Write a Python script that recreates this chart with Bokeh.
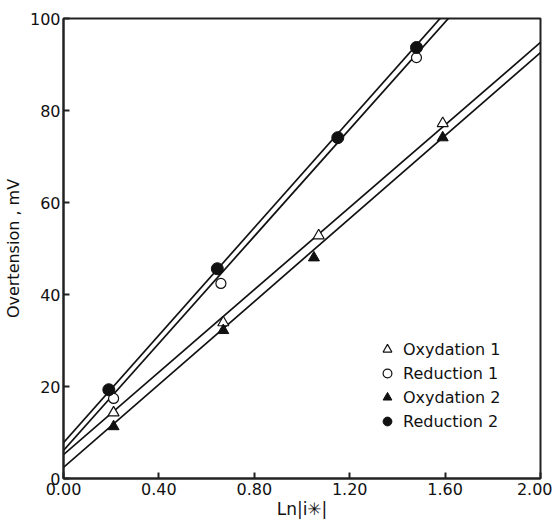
from bokeh.plotting import figure
from bokeh.models import Legend, LegendItem, FixedTicker, Range1d
from bokeh.embed import file_html
from bokeh.resources import INLINE

# ---- data ----
x_ox1 = [0.21, 0.67, 1.07, 1.59]
y_ox1 = [14.3, 33.9, 52.8, 77.2]
x_red1 = [0.21, 0.66, 1.48]
y_red1 = [17.4, 42.4, 91.5]
x_ox2 = [0.21, 0.67, 1.05, 1.59]
y_ox2 = [11.3, 32.2, 48.0, 74.1]
x_red2 = [0.19, 0.645, 1.15, 1.48]
y_red2 = [19.3, 45.6, 74.1, 93.7]

# fitted straight lines (intercept, slope)
fit_names = ["Oxydation 1", "Reduction 1", "Oxydation 2", "Reduction 2"]
fit_intercept = [5.2, 6.1, 2.4, 7.8]
fit_slope = [44.8, 58.2, 45.1, 58.4]
fit_x = [0.0, 2.0]

x_ticks = [0.0, 0.4, 0.8, 1.2, 1.6, 2.0]
x_tick_labels = ["0.00", "0.40", "0.80", "1.20", "1.60", "2.00"]
y_ticks = [0, 20, 40, 60, 80, 100]
y_tick_labels = ["0", "20", "40", "60", "80", "100"]

FONT = "DejaVu Sans"
INK = "#111111"

p = figure(width=552, height=523, x_range=Range1d(0, 2), y_range=Range1d(0, 100),
           output_backend="svg", toolbar_location=None,
           min_border_left=63, min_border_right=12, min_border_top=18, min_border_bottom=45)
p.xgrid.visible = False
p.ygrid.visible = False
p.background_fill_color = "white"
p.border_fill_color = "white"
p.outline_line_color = "#222222"
p.outline_line_width = 2

p.xaxis.ticker = FixedTicker(ticks=x_ticks)
p.xaxis.major_label_overrides = {t: l for t, l in zip(x_ticks, x_tick_labels)}
p.yaxis.ticker = FixedTicker(ticks=y_ticks)
p.yaxis.major_label_overrides = {t: l for t, l in zip(y_ticks, y_tick_labels)}

for ax in (p.xaxis[0], p.yaxis[0]):
    ax.axis_line_color = "#222222"
    ax.axis_line_width = 2
    ax.major_tick_in = 6
    ax.major_tick_out = 0
    ax.major_tick_line_color = "#222222"
    ax.major_tick_line_width = 2
    ax.minor_tick_line_color = None
    ax.major_label_text_font = FONT
    ax.major_label_text_font_size = "16px"
    ax.major_label_text_color = INK
    ax.axis_label_text_font = FONT
    ax.axis_label_text_font_style = "normal"
    ax.axis_label_text_color = INK

p.xaxis.axis_label = "Ln|i✳|"
p.xaxis.axis_label_text_font_size = "17px"
p.xaxis.major_label_standoff = 4
p.xaxis.axis_label_standoff = 1
p.yaxis.axis_label = "Overtension , mV"
p.yaxis.axis_label_text_font_size = "16px"
p.yaxis.major_label_standoff = 3
p.yaxis.axis_label_standoff = 4

# fit lines
for b, m in zip(fit_intercept, fit_slope):
    ys = [b + m * x for x in fit_x]
    p.line(fit_x, ys, line_color=INK, line_width=1.7)

r_ox1 = p.scatter(x_ox1, y_ox1, marker="triangle", size=11, fill_color="white",
                  line_color=INK, line_width=1.2)
r_red1 = p.scatter(x_red1, y_red1, marker="circle", size=10, fill_color="white",
                   line_color=INK, line_width=1.2)
r_ox2 = p.scatter(x_ox2, y_ox2, marker="triangle", size=11, fill_color=INK,
                  line_color=INK, line_width=1)
r_red2 = p.scatter(x_red2, y_red2, marker="circle", size=12, fill_color=INK,
                   line_color=INK, line_width=1)

legend = Legend(items=[LegendItem(label=fit_names[0], renderers=[r_ox1]),
                       LegendItem(label=fit_names[1], renderers=[r_red1]),
                       LegendItem(label=fit_names[2], renderers=[r_ox2]),
                       LegendItem(label=fit_names[3], renderers=[r_red2])],
                location=(313, 45), padding=0, margin=0, spacing=0,
                glyph_height=24, glyph_width=22, label_height=24, label_standoff=5,
                border_line_color=None, background_fill_alpha=0,
                label_text_font=FONT, label_text_font_size="16px",
                label_text_color=INK)
p.add_layout(legend)

open("out.html", "w").write(file_html(p, INLINE))
